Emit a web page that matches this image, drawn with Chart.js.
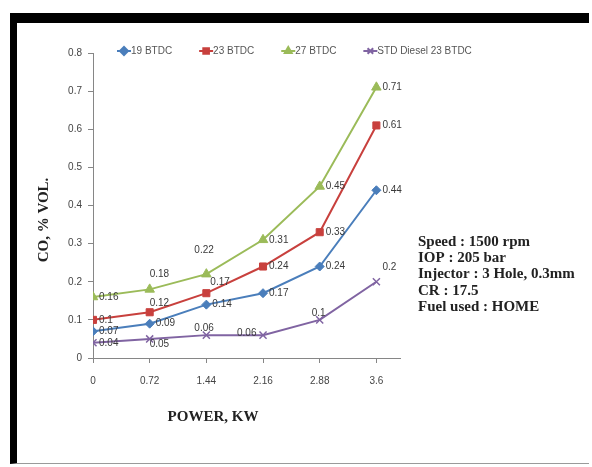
<!DOCTYPE html>
<html>
<head>
<meta charset="utf-8">
<script src="https://cdn.jsdelivr.net/npm/chart.js@4.4.1/dist/chart.umd.min.js"></script>
<style>
    body { margin: 0; background: #fff; }
    #wrap { position: relative; width: 592px; height: 467px; }
    #frame {
        position: absolute; left: 10px; top: 13px; width: 579px; height: 451px;
        border-top: 10px solid #000; border-left: 7px solid #000; border-bottom: 1px solid #9a9a9a;
        box-sizing: border-box;
    }
    canvas { position: absolute; left: 0; top: 0; }
</style>
</head>
<body>
<div id="wrap">
    <div id="frame"></div>
    <canvas id="chart" width="592" height="467"></canvas>
</div>
<script>
// Dữ liệu biểu đồ
const powers = [0, 0.72, 1.44, 2.16, 2.88, 3.6];
const powerLabels = ['0', '0.72', '1.44', '2.16', '2.88', '3.6'];
const seriesNames = ['19 BTDC', '23 BTDC', '27 BTDC', 'STD Diesel 23 BTDC'];
const co19 = [0.07, 0.09, 0.14, 0.17, 0.24, 0.44];
const co23 = [0.1, 0.12, 0.17, 0.24, 0.33, 0.61];
const co27 = [0.16, 0.18, 0.22, 0.31, 0.45, 0.71];
const coStd = [0.04, 0.05, 0.06, 0.06, 0.1, 0.2];
const yTicks = [0, 0.1, 0.2, 0.3, 0.4, 0.5, 0.6, 0.7, 0.8];
const notes = ['Speed : 1500 rpm', 'IOP : 205 bar', 'Injector : 3 Hole, 0.3mm', 'CR : 17.5', 'Fuel used : HOME'];

const colors = ['#4a7ebb', '#c8403d', '#9bbb59', '#8064a2'];
const markers = ['rectRot', 'rect', 'triangle', 'crossRot'];
const markerSizes = [4.5, 5, 5.5, 5];

// Vị trí nhãn dữ liệu (dx, dy so với điểm); mặc định bên phải
const labelShift = {
    '1-2': [4, -11], '1-1': [0, -9],
    '2-1': [0, -15], '2-2': [-12, -24],
    '3-1': [0, 5], '3-2': [-12, -7], '3-3': [-26, -2], '3-4': [-8, -7], '3-5': [6, -15]
};

const serif = '"Liberation Serif", "Times New Roman", serif';
const sans = '"Liberation Sans", Arial, sans-serif';

const allSeries = [co19, co23, co27, coStd];

const datasets = allSeries.map(function (vals, i) {
    return {
        label: seriesNames[i],
        data: vals.map(function (v, j) { return { x: powers[j], y: v }; }),
        borderColor: colors[i],
        backgroundColor: colors[i],
        borderWidth: 2,
        pointStyle: markers[i],
        pointRadius: markerSizes[i],
        pointBorderWidth: i === 3 ? 1.5 : 1,
        pointBorderColor: colors[i],
        pointBackgroundColor: colors[i],
        tension: 0
    };
});

const extrasPlugin = {
    id: 'extras',
    afterDatasetsDraw: function (chart) {
        const ctx = chart.ctx;
        ctx.save();

        // Nhãn dữ liệu
        ctx.font = '10px ' + sans;
        ctx.fillStyle = '#3a3a3a';
        ctx.textBaseline = 'middle';
        ctx.textAlign = 'left';
        chart.data.datasets.forEach(function (ds, i) {
            const meta = chart.getDatasetMeta(i);
            meta.data.forEach(function (pt, j) {
                const s = labelShift[i + '-' + j] || [6, 0];
                ctx.fillText(String(allSeries[i][j]), pt.x + s[0], pt.y + s[1]);
            });
        });

        // Chú giải
        let x = 117;
        const ly = 51;
        ctx.font = '10px ' + sans;
        ctx.fillStyle = '#555';
        seriesNames.forEach(function (name, i) {
            ctx.strokeStyle = colors[i];
            ctx.lineWidth = 2;
            ctx.beginPath();
            ctx.moveTo(x, ly);
            ctx.lineTo(x + 14, ly);
            ctx.stroke();
            Chart.helpers.drawPoint(ctx, {
                pointStyle: markers[i], radius: 4, borderWidth: 1,
                rotation: 0
            }, x + 7, ly);
            ctx.fillStyle = colors[i];
            ctx.fill();
            ctx.fillStyle = '#555';
            ctx.fillText(name, x + 14, ly);
            x += 14 + ctx.measureText(name).width + 27;
        });

        // Tiêu đề trục
        ctx.fillStyle = '#222';
        ctx.font = 'bold 15px ' + serif;
        ctx.textAlign = 'center';
        ctx.fillText('POWER, KW', 213, 417);
        ctx.save();
        ctx.translate(44, 220);
        ctx.rotate(-Math.PI / 2);
        ctx.fillText('CO, % VOL.', 0, 0);
        ctx.restore();

        // Ghi chú điều kiện
        ctx.textAlign = 'left';
        ctx.font = 'bold 15px ' + serif;
        notes.forEach(function (t, k) {
            ctx.fillText(t, 418, 242 + k * 16.3);
        });
        ctx.restore();
    }
};

new Chart(document.getElementById('chart'), {
    type: 'line',
    data: { datasets: datasets },
    options: {
        responsive: false,
        animation: false,
        events: [],
        layout: { padding: { left: 0, top: 53, right: 192, bottom: 79 } },
        plugins: { legend: { display: false }, tooltip: { enabled: false } },
        scales: {
            x: {
                type: 'linear',
                min: 0,
                max: 3.9,
                afterBuildTicks: function (scale) {
                    scale.ticks = powers.map(function (v) { return { value: v }; });
                },
                afterFit: function (scale) { scale.height = 30; },
                grid: { drawOnChartArea: false, drawTicks: true, tickLength: 5, color: '#868686' },
                border: { color: '#868686', width: 1 },
                ticks: {
                    color: '#444',
                    font: { family: sans, size: 10 },
                    padding: 12,
                    maxRotation: 0,
                    callback: function (v) {
                        const k = powers.indexOf(v);
                        return k >= 0 ? powerLabels[k] : '';
                    }
                }
            },
            y: {
                min: 0,
                max: 0.8,
                afterBuildTicks: function (scale) {
                    scale.ticks = yTicks.map(function (v) { return { value: v }; });
                },
                afterFit: function (scale) { scale.width = 93; },
                grid: { drawOnChartArea: false, drawTicks: true, tickLength: 5, color: '#868686' },
                border: { color: '#868686', width: 1 },
                ticks: {
                    color: '#444',
                    font: { family: sans, size: 10 },
                    padding: 6,
                    callback: function (v) { return String(Math.round(v * 10) / 10); }
                }
            }
        }
    },
    plugins: [extrasPlugin]
});
</script>
</body>
</html>
